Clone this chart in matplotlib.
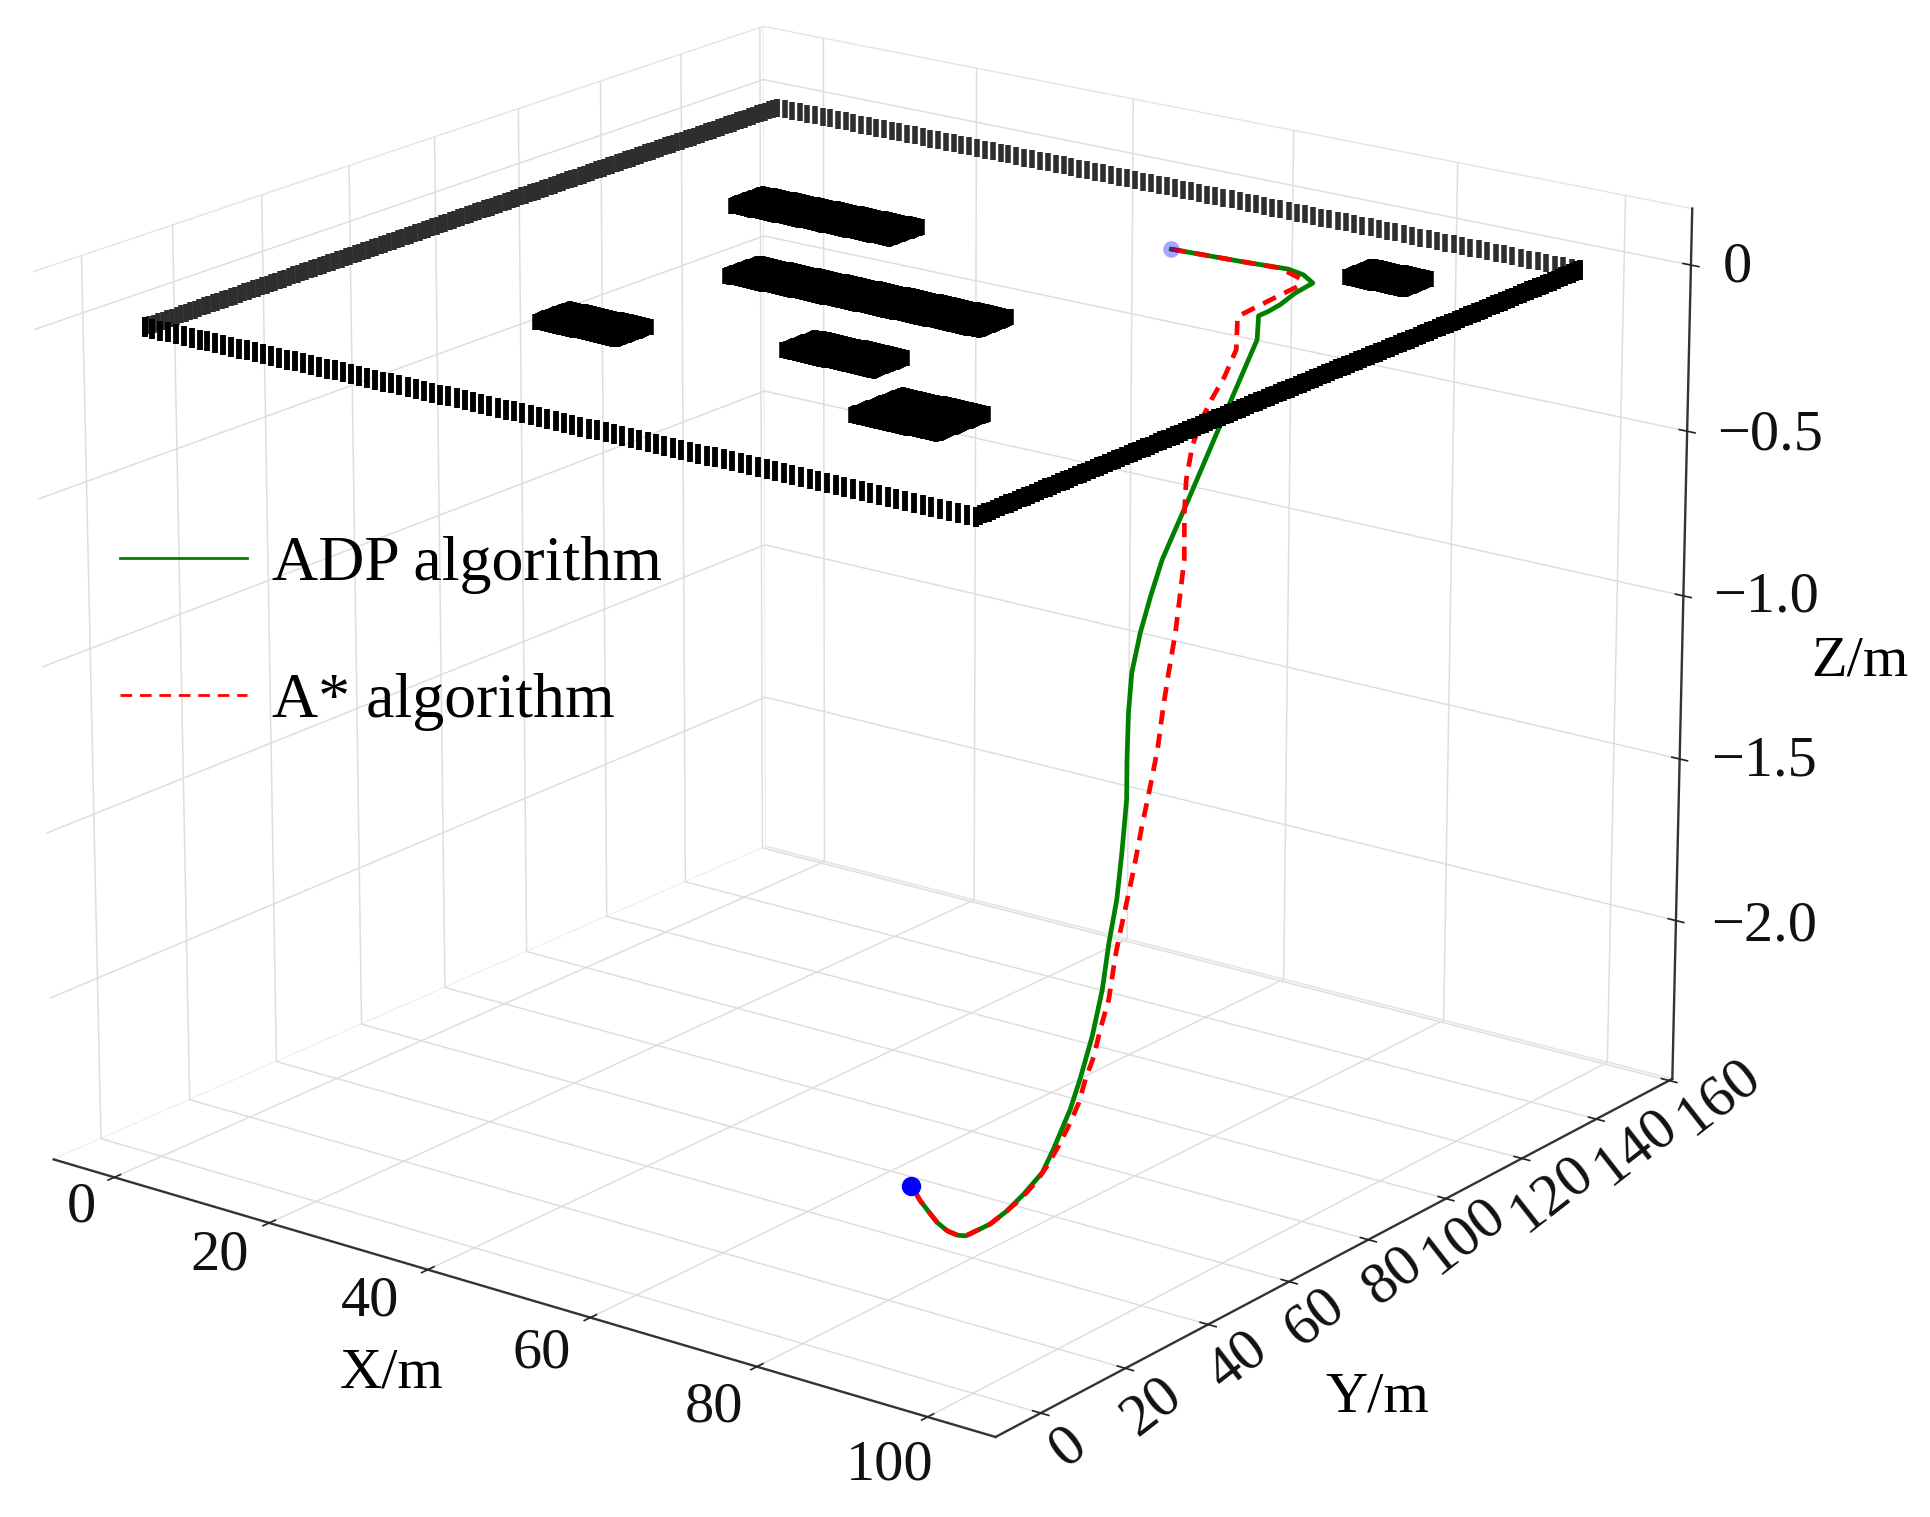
# -*- coding: utf-8 -*-
import numpy as np
import matplotlib
matplotlib.use('Agg')
import matplotlib.pyplot as plt
from matplotlib.lines import Line2D
from mpl_toolkits.mplot3d import proj3d

plt.rcParams['font.family'] = ['Liberation Serif', 'DejaVu Serif']
plt.rcParams['font.size'] = 42
plt.rcParams['grid.color'] = '#dedede'
plt.rcParams['grid.linewidth'] = 1.1
plt.rcParams['xtick.major.width'] = 1.2
plt.rcParams['ytick.major.width'] = 1.2
plt.rcParams['xtick.color'] = '#222222'
plt.rcParams['ytick.color'] = '#222222'

W, H = 1931, 1517

# axes
x_lim = (-7.96, 107.82)
y_lim = (-10.50, 160.88)
z_lim = (-2.494, 0.169)
x_ticks = [0, 20, 40, 60, 80, 100]
y_ticks = [0, 20, 40, 60, 80, 100, 120, 140, 160]
z_ticks = [0, -0.5, -1.0, -1.5, -2.0]
z_tick_labels = ['0', '\u22120.5', '\u22121.0', '\u22121.5', '\u22122.0']

# map boundary and obstacles at z=0, x0 x1 y0 y1
bound_x = 100
bound_y = 149
obstacles = [(19, 39, 101, 109), (34, 65, 71, 79), (29, 39, 36, 44),
             (54, 65, 46, 54), (72, 82, 27, 39), (83, 90, 125, 132)]

# ADP path
adp_x = [63.6, 71.7, 76.9, 79.2, 81.6, 82.2, 83.3, 83.7, 83.8, 84.4, 85.1, 84.8, 85.0, 85.3, 85.5, 85.8, 86.8, 87.6, 89.1, 90.1,
         91.8, 92.4, 93.3, 94.3, 95.0, 95.0, 95.2, 95.4, 95.0, 94.3, 93.5, 92.7, 91.1, 90.4, 89.5, 88.5, 87.9, 86.5, 85.6]
adp_y = [121.7, 122.6, 123.5, 122.4, 119.7, 113.9, 107.7, 103.9, 101.2, 99.6, 90.7, 88.5, 81.5, 74.5, 71.3, 68.2, 64.1, 61.7, 58.3, 56.2,
         51.6, 49.2, 45.5, 41.9, 38.1, 35.2, 32.5, 28.1, 26.3, 23.3, 21.0, 18.6, 16.1, 15.6, 15.0, 14.6, 13.9, 14.6, 14.3]
adp_z = [0, 0, 0, 0, 0, 0, 0, 0, 0, -0.06, -0.22, -0.29, -0.44, -0.58, -0.67, -0.76, -0.85, -0.95, -1.06, -1.16,
         -1.28, -1.40, -1.50, -1.61, -1.72, -1.83, -1.90, -1.99, -2.05, -2.10, -2.14, -2.17, -2.20, -2.20, -2.19, -2.17, -2.14, -2.12, -2.08]

# A* path
astar_x = [63.6, 71.7, 76.0, 79.6, 81.1, 81.4, 82.1, 82.3, 83.4, 83.1, 83.3, 83.1, 83.6, 84.3, 85.3, 87.0, 87.8, 88.5, 89.6, 90.3,
           90.9, 91.8, 92.3, 93.2, 93.2, 93.7, 94.3, 95.3, 95.1, 95.6, 95.4, 95.9, 95.7, 95.8, 95.4, 95.0, 94.3, 93.5, 92.7, 91.1,
           90.4, 89.5, 88.5, 87.9, 86.5, 85.6]
astar_y = [121.7, 122.6, 123.2, 120.6, 116.9, 111.9, 102.0, 99.1, 96.5, 94.3, 90.6, 88.6, 85.3, 82.4, 79.9, 76.4, 73.8, 71.2, 67.3, 64.6,
           62.0, 58.1, 55.4, 51.6, 50.1, 47.5, 45.0, 41.4, 39.8, 37.3, 35.7, 33.1, 31.5, 28.5, 26.6, 24.7, 22.5, 21.0, 18.6, 16.1,
           15.6, 15.0, 14.6, 13.9, 14.6, 14.3]
astar_z = [0, 0, 0, 0, 0, 0, 0, 0, -0.08, -0.15, -0.20, -0.25, -0.31, -0.39, -0.47, -0.58, -0.66, -0.76, -0.85, -0.93,
           -1.04, -1.14, -1.22, -1.32, -1.40, -1.47, -1.53, -1.63, -1.71, -1.77, -1.83, -1.88, -1.93, -1.98, -2.03, -2.07, -2.11, -2.14, -2.17, -2.20,
           -2.20, -2.19, -2.17, -2.14, -2.12, -2.08]

fig = plt.figure(figsize=(19.31, 15.17), dpi=100)
ax = fig.add_subplot(projection='3d', computed_zorder=False)
ax.view_init(elev=17.049, azim=-52.924)
ax.set_box_aspect((1, 0.9961, 0.7165), zoom=0.9818)
ax.set_xlim3d(*x_lim)
ax.set_ylim3d(*y_lim)
ax.set_zlim3d(*z_lim)

# place the view plane on the page from the corners of the box
corners = [(x_lim[0], y_lim[0], z_lim[0]), (x_lim[1], y_lim[0], z_lim[0]), (x_lim[1], y_lim[1], z_lim[0]),
           (x_lim[0], y_lim[1], z_lim[1]), (x_lim[0], y_lim[0], z_lim[1]), (x_lim[1], y_lim[1], z_lim[1])]
corners_px = np.array([(54, 1159), (995, 1438), (1672, 1078), (763, 27), (33, 272), (1693, 208)], float)
c = np.array(corners).T
u, v, _ = proj3d.proj_transform(c[0], c[1], c[2], ax.get_proj())
sx, tx = np.polyfit(u, corners_px[:, 0], 1)
sy, ty = np.polyfit(v, H - corners_px[:, 1], 1)
f = ax.transLimits.transform([(0, 0), (1, 1)])
ax_w = sx / (W * (f[1, 0] - f[0, 0]))
ax_h = sy / (H * (f[1, 1] - f[0, 1]))
ax.apply_aspect = lambda position=None: None
ax.set_position([(tx - ax_w * W * f[0, 0]) / W, (ty - ax_h * H * f[0, 1]) / H, ax_w, ax_h])

# panes, grid
for axis in (ax.xaxis, ax.yaxis, ax.zaxis):
    axis.set_pane_color((1, 1, 1, 1))
    axis.pane.set_edgecolor('#e4e4e4')
    axis.line.set_color('#333333')
    axis.line.set_linewidth(1.7)
    axis._axinfo['tick']['inward_factor'] = 0.1
    axis._axinfo['tick']['outward_factor'] = 0.1

ax.set_xticks(x_ticks)
ax.set_yticks(y_ticks)
ax.set_zticks(z_ticks)
ax.set_xticklabels([])
ax.set_yticklabels([])
ax.set_zticklabels([])

# tick labels go on the page, mplot3d keeps resetting their transforms
x_label_px = [(81, 1207), (220, 1255), (370, 1302), (542, 1353), (714, 1408), (890, 1465)]
y_label_px = [(1069, 1447), (1152, 1407), (1238, 1361), (1315, 1318), (1393, 1276), (1464, 1236), (1552, 1194), (1636, 1147), (1719, 1097)]
z_label_px = [(1723, 267), (1717, 435), (1713, 598), (1711, 762), (1711, 927)]
for t, (px, py) in zip(x_ticks, x_label_px):
    fig.text(px / W, 1 - py / H, str(t), fontsize=42, color='#111111', ha='center', va='center')
for t, (px, py) in zip(y_ticks, y_label_px):
    fig.text(px / W, 1 - py / H, str(t), fontsize=43, color='#111111', ha='center', va='center', rotation=38)
for t, (px, py) in zip(z_tick_labels, z_label_px):
    fig.text(px / W, 1 - py / H, t, fontsize=42, color='#111111', ha='left', va='center')

# boundary, one cell per metre, far edges print greyer
bx = np.arange(0, bound_x + 1)
by = np.arange(0, bound_y + 1)
ax.plot(bx, np.full_like(bx, bound_y), 0, ls='none', marker='|', ms=13, mew=4.0, color='#2e2e2e', zorder=3)
ax.plot(np.zeros_like(by), by, 0, ls='none', marker='|', ms=13, mew=4.0, color='#2e2e2e', zorder=3)
ax.plot(bx, np.zeros_like(bx), 0, ls='none', marker='|', ms=14.5, mew=4.2, color='k', zorder=3)
ax.plot(np.full_like(by, bound_x), by, 0, ls='none', marker='|', ms=14.5, mew=4.2, color='k', zorder=3)

# obstacles
for x0, x1, y0, y1 in obstacles:
    gx, gy = np.meshgrid(np.arange(x0, x1 + 0.5, 0.5), np.arange(y0, y1 + 0.5, 0.5))
    ax.plot(gx.ravel(), gy.ravel(), np.zeros(gx.size), ls='none', marker='|', ms=11, mew=4.0, color='k', zorder=3)

# paths
ax.plot(adp_x, adp_y, adp_z, color='#008000', lw=3.4, zorder=2)
ax.plot(astar_x, astar_y, astar_z, color='#ff0000', lw=3.4, ls=(0, (3, 2)), zorder=2.1)
ax.plot(adp_x[:1], adp_y[:1], adp_z[:1], ls='none', marker='o', ms=12, color='#0000ff', alpha=0.35, mew=0, zorder=4)
ax.plot(adp_x[-1:], adp_y[-1:], adp_z[-1:], ls='none', marker='o', ms=14, color='#0000ff', mew=0, zorder=4)

handles = [Line2D([], [], color='#008000', lw=2),
           Line2D([], [], color='#ff0000', lw=2, ls=(0, (4.2, 2.8)))]
fig.legend(handles, ['ADP algorithm', 'A* algorithm'], loc='upper left', bbox_to_anchor=(0.062, 0.647),
           frameon=False, fontsize=46, borderpad=0, borderaxespad=0, labelspacing=1.22,
           handlelength=2.0, handletextpad=0.38)

fig.text(392 / W, 1 - 1373 / H, 'X/m', fontsize=42, ha='center', va='center')
fig.text(1377 / W, 1 - 1398 / H, 'Y/m', fontsize=42, ha='center', va='center')
fig.text(1860 / W, 1 - 661 / H, 'Z/m', fontsize=42, ha='center', va='center')

fig.savefig('out.png', dpi=100)
